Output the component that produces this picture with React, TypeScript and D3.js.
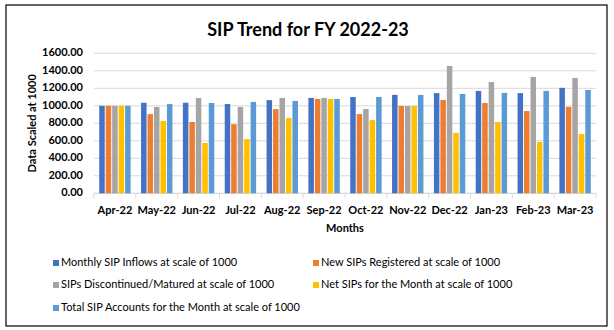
import React from "react";
import * as d3 from "d3";

const months = ["Apr-22","May-22","Jun-22","Jul-22","Aug-22","Sep-22","Oct-22","Nov-22","Dec-22","Jan-23","Feb-23","Mar-23"];
const inflows = [1000,1035,1035,1020,1065,1090,1100,1125,1145,1170,1145,1205];
const newSips = [1000,905,815,790,962,1078,905,998,1067,1032,940,988];
const discontinued = [1000,987,1090,987,1090,1090,964,998,1455,1272,1330,1318];
const netSips = [1000,827,575,620,860,1078,838,998,690,815,587,678];
const totalAccounts = [1000,1020,1032,1044,1055,1078,1101,1124,1135,1147,1170,1181];
const yTicks = [0,200,400,600,800,1000,1200,1400,1600];

const seriesNames = [
  "Monthly SIP Inflows at scale of 1000",
  "New SIPs Registered at scale of 1000",
  "SIPs Discontinued/Matured at scale of 1000",
  "Net SIPs for the Month at scale of 1000",
  "Total SIP Accounts for the Month at scale of 1000",
];
const seriesValues = [inflows, newSips, discontinued, netSips, totalAccounts];
const colors = ["#4472C4","#ED7D31","#A5A5A5","#FFC000","#5B9BD5"];

const FONT = "Lato, 'Open Sans', sans-serif";

export default function App() {
  const W = 614, H = 330;
  const left = 94, right = 596, top = 53.3, bottom = 193.3;
  const x = d3.scaleBand<string>().domain(months).range([left, right]).paddingInner(0.25).paddingOuter(0.125);
  const band = d3.scaleBand<string>().domain(months).range([left, right]);
  const y = d3.scaleLinear().domain([0, 1600]).range([bottom, top]);
  const inner = d3.scaleBand<number>().domain(d3.range(5)).range([0, x.bandwidth()]).paddingInner(0.15);

  const legendPos = [
    { x: 53, y: 263 }, { x: 313, y: 263 },
    { x: 53, y: 285 }, { x: 313, y: 285 },
    { x: 53, y: 308 },
  ];

  return (
    <svg width={W} height={H} style={{ position: "absolute", left: 0, top: 0, background: "#fff" }} fontFamily={FONT}>
      <rect x={6} y={5} width={601} height={321} fill="#fff" stroke="#000" strokeWidth={1.2} />
      <text x={308} y={31} textAnchor="middle" fontSize={18} fontWeight="bold" dominantBaseline="middle" fill="#000">SIP Trend for FY 2022-23</text>
      {yTicks.map(t => (
        <g key={t}>
          <line x1={left} x2={right} y1={y(t)} y2={y(t)} stroke="#d9d9d9" strokeWidth={1} />
          <text x={83} y={y(t)} textAnchor="end" dominantBaseline="middle" fontSize={11} fontWeight="bold" fill="#000">{t.toFixed(2)}</text>
        </g>
      ))}
      <line x1={left} x2={right} y1={bottom} y2={bottom} stroke="#d9d9d9" />
      {months.map((m, i) => (
        <line key={"t" + i} x1={band(m)!} x2={band(m)!} y1={bottom} y2={bottom + 5} stroke="#d9d9d9" />
      ))}
      <line x1={right} x2={right} y1={bottom} y2={bottom + 5} stroke="#d9d9d9" />
      {seriesValues.map((vals, s) => (
        <g key={s} fill={colors[s]}>
          {vals.map((v, i) => (
            <rect key={i} x={x(months[i])! + inner(s)!} y={y(v)} width={inner.bandwidth()} height={bottom - y(v)} />
          ))}
        </g>
      ))}
      {months.map(m => (
        <text key={m} x={band(m)! + band.bandwidth() / 2} y={211} textAnchor="middle" dominantBaseline="middle" fontSize={11} fontWeight="bold" fill="#000">{m}</text>
      ))}
      <text x={345} y={229} textAnchor="middle" dominantBaseline="middle" fontSize={11} fontWeight="bold" fill="#000">Months</text>
      <text transform={`translate(33,${(top + bottom) / 2}) rotate(-90)`} textAnchor="middle" dominantBaseline="middle" fontSize={11} fontWeight="bold" fill="#000">Data Scaled at 1000</text>
      {seriesNames.map((n, i) => (
        <g key={n}>
          <rect x={legendPos[i].x} y={legendPos[i].y - 3} width={6} height={6} fill={colors[i]} />
          <text x={legendPos[i].x + 8} y={legendPos[i].y} dominantBaseline="middle" fontSize={11} fill="#000">{n}</text>
        </g>
      ))}
    </svg>
  );
}
